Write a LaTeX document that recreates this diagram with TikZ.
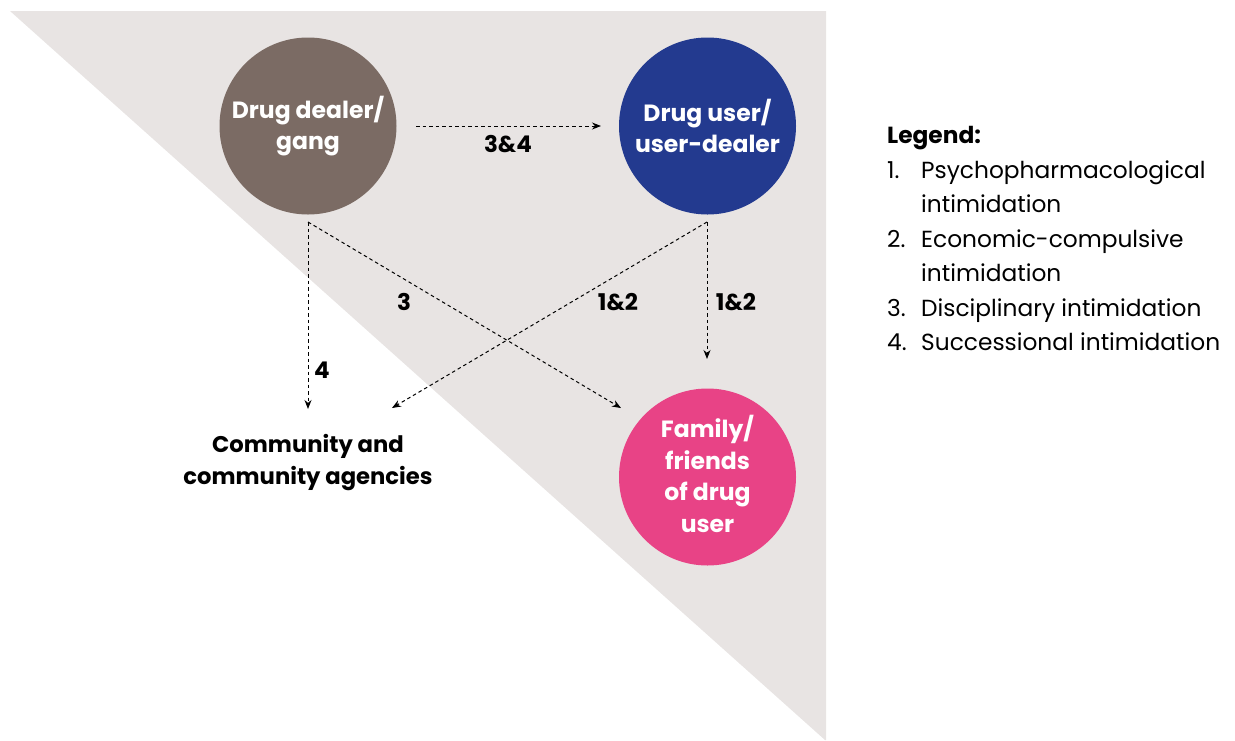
\documentclass[tikz,border=0pt]{standalone}
\usepackage{fontspec}
\setmainfont{Poppins}
\usetikzlibrary{arrows.meta}
\definecolor{bgtri}{HTML}{E8E4E3}
\definecolor{dealercol}{HTML}{7B6B64}
\definecolor{usercol}{HTML}{233A8F}
\definecolor{familycol}{HTML}{E84386}
\tikzset{
  bub/.style={circle, minimum size=177pt, inner sep=0pt, text=white, font=\fontsize{23.5}{31.5}\selectfont\bfseries, align=center},
  arr/.style={dashed, dash pattern=on 3.5pt off 3pt, line width=1pt, -{Stealth[length=9pt,width=7pt]}},
  lbl/.style={font=\fontsize{23}{28}\selectfont\bfseries, inner sep=0pt},
  leg/.style={font=\fontsize{23.3}{34.5}\selectfont, anchor=base west, inner sep=0pt}
}
\begin{document}
\begin{tikzpicture}[x=1pt,y=-1pt]
\useasboundingbox (0,0) rectangle (1235,740);
\fill[bgtri] (10,11) -- (826,11) -- (826,740) -- (825,740) -- cycle;
\node[bub, fill=dealercol] (dealer) at (308,126) {Drug dealer/\\gang};
\node[bub, fill=usercol] (user) at (707.5,126) {Drug user/\\user-dealer};
\node[bub, fill=familycol] (family) at (707.5,477) {};
\node[bub, minimum size=0pt] (famtext) at (707.5,474) {Family/\\friends\\of drug\\user};
\node[font=\fontsize{22.7}{32}\selectfont\bfseries, align=center, inner sep=0pt] (comm) at (308,463) {Community and\\community agencies};
\coordinate (dS) at (308,222);
\coordinate (uS) at (707,222);
\coordinate (hA) at (416,126);
\coordinate (hB) at (601,126);
\coordinate (cA) at (308,409);
\coordinate (cB) at (392,408);
\coordinate (fA) at (621,408);
\coordinate (fB) at (707,359);
\draw[arr] (hA) -- (hB);
\draw[arr] (dS) -- (cA);
\draw[arr] (dS) -- (fA);
\draw[arr] (uS) -- (cB);
\draw[arr] (uS) -- (fB);
\node[lbl] (l34) at (508,144) {3\&4};
\node[lbl] (l4) at (322,370) {4};
\node[lbl] (l3) at (404,302) {3};
\node[lbl] (l12a) at (618,302) {1\&2};
\node[lbl] (l12b) at (736,302) {1\&2};
\node[leg, font=\fontsize{23.3}{34.5}\selectfont\bfseries] (legh) at (887,143) {Legend:};
\node[leg] (n1) at (887,178) {1.};
\node[leg] (t1) at (921,178) {Psychopharmacological};
\node[leg] (t1b) at (921,212.5) {intimidation};
\node[leg] (n2) at (887,247) {2.};
\node[leg] (t2) at (921,247) {Economic-compulsive};
\node[leg] (t2b) at (921,281.5) {intimidation};
\node[leg] (n3) at (887,316) {3.};
\node[leg] (t3) at (921,316) {Disciplinary intimidation};
\node[leg] (n4) at (887,350.5) {4.};
\node[leg] (t4) at (921,350.5) {Successional intimidation};
\end{tikzpicture}
\end{document}
